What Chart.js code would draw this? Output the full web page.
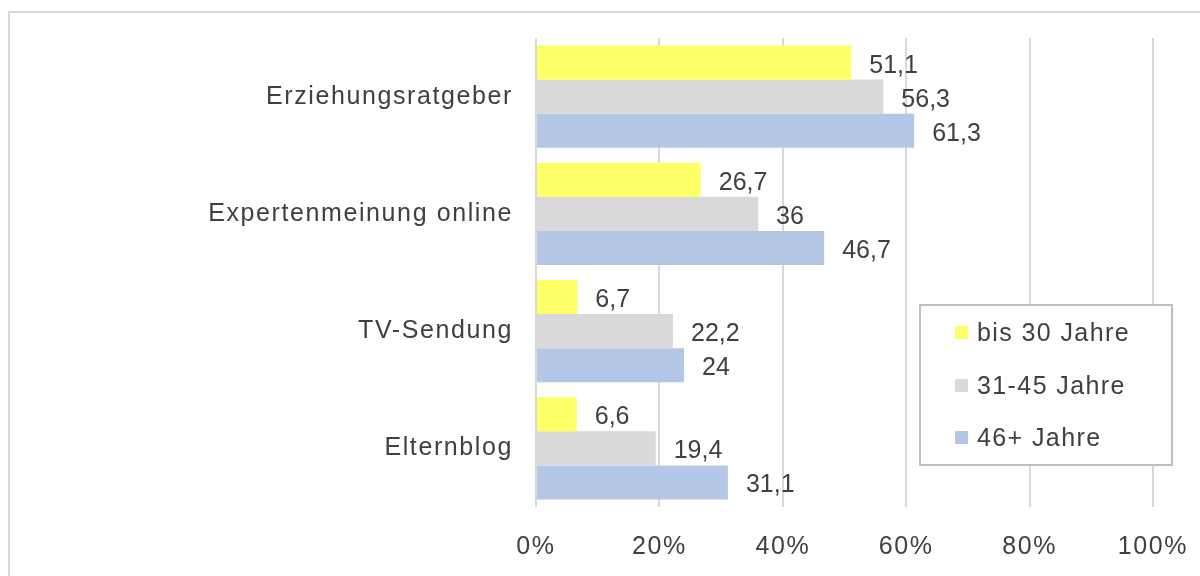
<!DOCTYPE html>
<html lang="de">
<head>
<meta charset="utf-8">
<title>Erziehungsratgeber nach Alter</title>
<script src="https://cdn.jsdelivr.net/npm/chart.js@4/dist/chart.umd.min.js"></script>
<style>
  html, body { margin: 0; padding: 0; background: #fff; overflow: hidden; }
  #wrap { position: relative; width: 1200px; height: 576px; }
  #frame {
    position: absolute; left: 8px; top: 11px;
    width: 1300px; height: 700px;
    border: 2px solid #d9d9d9; box-sizing: border-box;
  }
  #chart { position: absolute; left: 0; top: 0; }
</style>
</head>
<body>
<div id="wrap">
  <div id="frame"></div>
  <canvas id="chart" width="1200" height="576"></canvas>
</div>
<script>
// Kategorien und Werte (Angaben in Prozent)
const categories = ['Erziehungsratgeber', 'Expertenmeinung online', 'TV-Sendung', 'Elternblog'];
const seriesNames = ['bis 30 Jahre', '31-45 Jahre', '46+ Jahre'];
const bis30 = [51.1, 26.7, 6.7, 6.6];
const von31bis45 = [56.3, 36, 22.2, 19.4];
const ab46 = [61.3, 46.7, 24, 31.1];
const xTicks = [0, 20, 40, 60, 80, 100];

const colors = ['#ffff66', '#d9d9d9', '#b4c7e7'];
const textColor = '#404040';
const fontFamily = "'Liberation Sans', Arial, sans-serif";

// etwas breitere Laufweite für die Achsenbeschriftungen
const axisSpacing = {
  id: 'axisSpacing',
  beforeDraw(chart) { chart.ctx.letterSpacing = '1.6px'; },
  beforeDatasetsDraw(chart) { chart.ctx.letterSpacing = '0px'; }
};

// Werte rechts neben den Balken, mit Komma als Dezimaltrenner
const valueLabels = {
  id: 'valueLabels',
  afterDatasetsDraw(chart) {
    const ctx = chart.ctx;
    ctx.save();
    ctx.font = '25px ' + fontFamily;
    ctx.fillStyle = textColor;
    ctx.textAlign = 'left';
    ctx.textBaseline = 'middle';
    chart.data.datasets.forEach((ds, i) => {
      chart.getDatasetMeta(i).data.forEach((bar, j) => {
        const txt = String(ds.data[j]).replace('.', ',');
        ctx.fillText(txt, bar.x + 18, bar.y + 3);
      });
    });
    ctx.restore();
  }
};

// Legende im Kasten rechts unten
const boxLegend = {
  id: 'boxLegend',
  afterDraw(chart) {
    const ctx = chart.ctx;
    ctx.save();
    ctx.fillStyle = '#ffffff';
    ctx.fillRect(920, 305, 252, 160);
    ctx.strokeStyle = '#bfbfbf';
    ctx.lineWidth = 2;
    ctx.strokeRect(920, 305, 252, 160);
    ctx.font = '25px ' + fontFamily;
    ctx.letterSpacing = '1.4px';
    ctx.textAlign = 'left';
    ctx.textBaseline = 'middle';
    const rows = [333, 386, 438];
    chart.data.datasets.forEach((ds, i) => {
      ctx.fillStyle = ds.backgroundColor;
      ctx.fillRect(955, rows[i] - 7, 13, 13);
      ctx.fillStyle = textColor;
      ctx.fillText(ds.label, 977, rows[i] + 1);
    });
    ctx.restore();
  }
};

const series = [bis30, von31bis45, ab46];

new Chart(document.getElementById('chart'), {
  type: 'bar',
  data: {
    labels: categories,
    datasets: series.map((vals, i) => ({
      label: seriesNames[i],
      data: vals,
      backgroundColor: colors[i],
      borderWidth: 0,
      categoryPercentage: 0.87,
      barPercentage: 1
    }))
  },
  options: {
    indexAxis: 'y',
    responsive: false,
    animation: false,
    devicePixelRatio: 1,
    layout: { padding: { left: 0, top: 38, right: 47, bottom: 0 } },
    plugins: {
      legend: { display: false },
      tooltip: { enabled: false }
    },
    scales: {
      x: {
        min: 0,
        max: 100,
        afterBuildTicks(scale) {
          scale.ticks = xTicks.map(v => ({ value: v }));
        },
        afterFit(scale) {
          scale.height = 69;
          scale.paddingLeft = 0;
          scale.paddingRight = 0;
        },
        ticks: {
          color: textColor,
          font: { family: fontFamily, size: 25 },
          padding: 25,
          maxRotation: 0,
          callback: v => v + '%'
        },
        grid: { color: '#d9d9d9', lineWidth: 2, drawTicks: false },
        border: { display: false }
      },
      y: {
        afterFit(scale) { scale.width = 536; },
        ticks: {
          color: textColor,
          font: { family: fontFamily, size: 25 },
          padding: 23
        },
        grid: { display: false, drawTicks: false },
        border: { display: false }
      }
    }
  },
  plugins: [axisSpacing, valueLabels, boxLegend]
});
</script>
</body>
</html>
